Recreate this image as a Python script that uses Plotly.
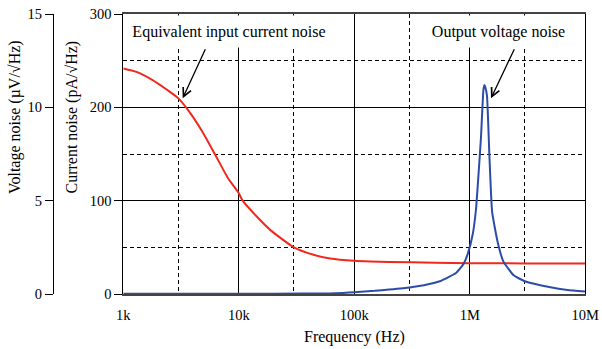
import plotly.graph_objects as go

# Equivalent input current noise (pA/√Hz) vs frequency (Hz)
current_freq = [1e3, 1.3e3, 1.75e3, 2.44e3, 3e3, 3.64e3, 4.74e3, 6.2e3, 8.08e3,
                1e4, 1.08e4, 1.43e4, 1.87e4, 3e4, 4.43e4, 6.18e4, 1e5, 1.37e5,
                2e5, 5e5, 1e6, 3e6, 1e7]
current_noise = [241.7, 238, 230, 218, 209.6, 197, 175.7, 150, 124,
                 108, 100, 83, 68.7, 50, 42, 38, 35.5, 34.8,
                 34.4, 33.5, 33, 32.8, 32.8]

# Output voltage noise (µV/√Hz) vs frequency (Hz)
voltage_freq = [1e3, 2e4, 6e4, 8e4, 1e5, 1.5e5, 2e5, 3e5, 4e5, 5.5e5, 7.6e5,
                8.8e5, 9.6e5, 1.06e6, 1.13e6, 1.17e6, 1.25e6, 1.31e6, 1.337e6,
                1.36e6, 1.41e6, 1.476e6, 1.56e6, 1.74e6, 1.95e6, 2.4e6, 3e6,
                5e6, 7e6, 1e7]
voltage_noise = [0.02, 0.02, 0.03, 0.06, 0.1, 0.17, 0.24, 0.35, 0.47, 0.68, 1.12,
                 1.6, 2.15, 3.2, 4.5, 5.75, 8.4, 10.9, 11.2,
                 11.1, 10.6, 7.5, 4.4, 2.8, 1.75, 1.0, 0.68,
                 0.36, 0.22, 0.13]

freq_ticks = [1e3, 1e4, 1e5, 1e6, 1e7]
freq_labels = ["1k", "10k", "100k", "1M", "10M"]
freq_dashed = [3e3, 3e4, 3e5, 3e6]

W = 602
FONT = "Liberation Serif"
RED = "#f0281e"
BLUE = "#2c4ca8"

X0, X1 = 123.3, 585.3          # plot area left/right edge in px


def px(x):
    return x / W


fig = go.Figure()
fig.add_trace(go.Scatter(x=current_freq, y=current_noise, mode="lines",
                         line=dict(color=RED, width=2, shape="spline", smoothing=0.6),
                         yaxis="y", hoverinfo="skip"))
fig.add_trace(go.Scatter(x=voltage_freq, y=voltage_noise, mode="lines",
                         line=dict(color=BLUE, width=2, shape="spline", smoothing=0.4),
                         yaxis="y2", hoverinfo="skip"))

fig.update_layout(
    width=W, height=349,
    margin=dict(l=0, r=0, t=14, b=55),
    paper_bgcolor="white", plot_bgcolor="white",
    showlegend=False,
    font=dict(family=FONT, size=14.5, color="black"),
    xaxis=dict(
        type="log", range=[3, 7], domain=[px(X0), px(X1)],
        tickvals=freq_ticks, ticktext=freq_labels, ticklabelstandoff=7,
        showline=True, linecolor="#444", linewidth=1.5, mirror=True,
        ticks="", showgrid=True, gridcolor="black", gridwidth=1,
        minor=dict(tickvals=freq_dashed, showgrid=True, gridcolor="black",
                   gridwidth=1, griddash="4px,3px", ticks=""),
        zeroline=False, automargin=False,
    ),
    yaxis=dict(
        range=[0, 300], tickvals=[0, 100, 200, 300],
        showline=True, linecolor="black", linewidth=1, mirror=True,
        ticks="outside", ticklen=8, tickcolor="black",
        showgrid=True, gridcolor="black", gridwidth=1,
        minor=dict(tickvals=[50, 150, 250], showgrid=True, gridcolor="black",
                   gridwidth=1, griddash="4px,3px", ticks=""),
        zeroline=False, automargin=False,
    ),
    yaxis2=dict(
        range=[0, 15], tickvals=[0, 5, 10, 15],
        overlaying="y", anchor="free", side="left", position=px(53),
        showline=True, linecolor="black", linewidth=1,
        ticks="outside", ticklen=8, tickcolor="black",
        showgrid=False, zeroline=False, automargin=False,
    ),
)

annotations = [
    # curve labels on white boxes
    dict(text="Equivalent input current noise", xref="paper", yref="paper",
         x=px(229), y=0.995, xanchor="center", yanchor="top",
         width=200, height=31, borderpad=0, bgcolor="white", showarrow=False,
         font=dict(size=16)),
    dict(text="Output voltage noise", xref="paper", yref="paper",
         x=px(498.5), y=0.995, xanchor="center", yanchor="top",
         width=145, height=31, borderpad=0, bgcolor="white", showarrow=False,
         font=dict(size=16)),
    # arrows
    dict(text="", xref="paper", yref="paper", x=px(182.7), y=0.699,
         ax=23.3, ay=-50.6, showarrow=True, arrowhead=5, arrowsize=1.3,
         arrowwidth=1.3, arrowcolor="black", standoff=0),
    dict(text="", xref="paper", yref="paper", x=px(491), y=0.699,
         ax=24, ay=-50.6, showarrow=True, arrowhead=5, arrowsize=1.3,
         arrowwidth=1.3, arrowcolor="black", standoff=0),
    # axis titles
    dict(text="Frequency (Hz)", xref="paper", yref="paper", x=px((X0 + X1) / 2),
         y=-0.155, xanchor="center", yanchor="middle", showarrow=False,
         font=dict(size=16)),
    dict(text="Voltage noise (µV/√Hz)", xref="paper", yref="paper",
         x=px(15), y=0.632, xanchor="center", yanchor="middle",
         textangle=-90, showarrow=False, font=dict(size=16)),
    dict(text="Current noise (pA/√Hz)", xref="paper", yref="paper",
         x=px(72.5), y=0.632, xanchor="center", yanchor="middle",
         textangle=-90, showarrow=False, font=dict(size=16)),
]
fig.update_layout(annotations=annotations)

fig.write_html("out.html", config={"displayModeBar": False})
